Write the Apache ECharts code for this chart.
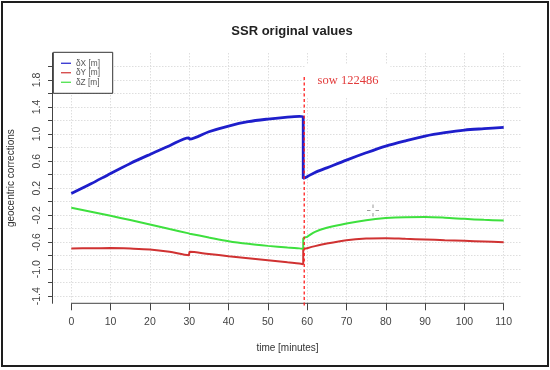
<!DOCTYPE html>
<html>
<head>
<meta charset="utf-8">
<script src="https://cdn.jsdelivr.net/npm/echarts@6/dist/echarts.min.js"></script>
<style>html,body{margin:0;padding:0;background:#fff}#c{width:550px;height:370px}</style>
</head>
<body>
<div id="c"></div>
<script>
// ---- data ----
var timeMin = [0,5,10,15,20,25,29.9,30.1,35,40,45,50,55,58,59,59,60,62,65,70,75,80,85,90,95,100,105,110];
var dX = [0.12,0.264,0.418,0.566,0.699,0.827,0.945,0.925,1.035,1.119,1.183,1.222,1.252,1.262,1.25,0.344,0.37,0.432,0.50,0.615,0.723,0.822,0.90,0.97,1.02,1.059,1.08,1.099];
var dY = [-0.695,-0.69,-0.688,-0.695,-0.708,-0.743,-0.793,-0.743,-0.775,-0.807,-0.837,-0.867,-0.898,-0.915,-0.926,-0.708,-0.69,-0.659,-0.62,-0.57,-0.546,-0.541,-0.551,-0.56,-0.57,-0.58,-0.59,-0.6];
var dZ = [-0.092,-0.15,-0.21,-0.273,-0.338,-0.405,-0.47,-0.474,-0.53,-0.585,-0.625,-0.655,-0.68,-0.692,-0.697,-0.546,-0.52,-0.447,-0.388,-0.323,-0.274,-0.244,-0.23,-0.228,-0.238,-0.255,-0.27,-0.279];
var seriesNames = ['\u03b4X [m]','\u03b4Y [m]','\u03b4Z [m]'];
var xTicks = [0,10,20,30,40,50,60,70,80,90,100,110];
var yTicks = [-1.4,-1.2,-1.0,-0.8,-0.6,-0.4,-0.2,0,0.2,0.4,0.6,0.8,1.0,1.2,1.4,1.6,1.8,2.0];
var yLabels = [-1.4,-1.0,-0.6,-0.2,0.2,0.6,1.0,1.4,1.8];
var sowTime = 59;
var sowLabel = 'sow 122486';

function pairs(t, v){ return t.map(function(x,i){ return [x, v[i]]; }); }

var chart = echarts.init(document.getElementById('c'), null, {renderer:'canvas'});
var axisCol = '#444';
var font = 'Liberation Sans, Arial, sans-serif';
var yMin = -1.505, yMax = 2.2;

var option = {
  animation: false,
  backgroundColor: '#fff',
  title: {
    text: 'SSR original values', left: 287, top: 20, textAlign: 'center',
    textStyle: {fontFamily: font, fontSize: 13, fontWeight: 'bold', color: '#222'}
  },
  legend: {
    orient: 'vertical', left: 61, top: 58.5, padding: 0, itemGap: 0, z: 6,
    icon: 'rect', itemWidth: 10, itemHeight: 1.2, itemTextGap: 12,
    textStyle: {fontFamily: font, fontSize: 8.3, color: '#555', lineHeight: 9.5},
    data: seriesNames
  },
  grid: {left: 54, top: 53, width: 467, height: 250.3, outerBoundsMode: 'none'},
  xAxis: {
    type: 'value', min: -4.4, max: 114.4,
    name: 'time [minutes]', nameLocation: 'middle', nameGap: 40,
    nameTextStyle: {fontFamily: font, fontSize: 10, color: '#333'},
    axisLine: {show: false, onZero: false},
    axisTick: {show: true, length: 7, lineStyle: {color: axisCol}, customValues: xTicks},
    axisLabel: {customValues: xTicks, margin: 13, fontFamily: font, fontSize: 10.5, color: '#444'},
    splitLine: {show: true, lineStyle: {color: '#dedede', type: [1.5,1.5], width: 1}}
  },
  yAxis: {
    type: 'value', min: yMin, max: yMax, offset: 2,
    name: 'geocentric corrections', nameLocation: 'middle', nameGap: 36,
    nameTextStyle: {fontFamily: font, fontSize: 10, color: '#333'},
    axisLine: {show: true, onZero: false, lineStyle: {color: axisCol, width: 1}},
    axisTick: {show: true, length: 4, lineStyle: {color: axisCol}, customValues: yTicks},
    axisLabel: {customValues: yLabels, rotate: 90, margin: 9, fontFamily: font, fontSize: 10.5, color: '#444',
      formatter: function(v){ return (Math.round(v*10)/10).toFixed(1); }},
    splitLine: {show: true, lineStyle: {color: '#dedede', type: [1.5,1.5], width: 1}}
  },
  series: [
    {name: seriesNames[0], type: 'line', data: pairs(timeMin, dX), showSymbol: false, z: 3, smooth: 0.3,
     lineStyle: {color: '#1e1ecb', width: 2.8}, itemStyle: {color: '#1e1ecb'}},
    {name: seriesNames[1], type: 'line', data: pairs(timeMin, dY), showSymbol: false, z: 2, smooth: 0.3,
     lineStyle: {color: '#d03232', width: 2}, itemStyle: {color: '#d03232'}},
    {name: seriesNames[2], type: 'line', data: pairs(timeMin, dZ), showSymbol: false, z: 2, smooth: 0.3,
     lineStyle: {color: '#3ee03e', width: 2}, itemStyle: {color: '#3ee03e'}}
  ]
};
chart.setOption(option);

var p0 = chart.convertToPixel({gridIndex: 0}, [xTicks[0], yMin]);
var p1 = chart.convertToPixel({gridIndex: 0}, [xTicks[xTicks.length-1], yMin]);
var s0 = chart.convertToPixel({gridIndex: 0}, [sowTime, 1.845]);
var s1 = chart.convertToPixel({gridIndex: 0}, [sowTime, yMin]);
chart.setOption({
  graphic: [
    {type: 'line', z: 5, shape: {x1: p0[0], y1: p0[1], x2: p1[0], y2: p1[1]}, style: {stroke: axisCol, lineWidth: 1}},
    {type: 'line', z: 6, shape: {x1: s0[0] + 1, y1: s0[1], x2: s1[0] + 1, y2: s1[1] + 4},
      style: {stroke: '#ff1f1f', lineWidth: 1.3, lineDash: [3, 2.5]}},
    {type: 'rect', z: 4, shape: {x: 53.3, y: 52.3, width: 59.4, height: 41}, style: {fill: '#fff', stroke: '#333', lineWidth: 1}},
    {type: 'text', z: 4, x: 348, y: 81, style: {text: sowLabel, fill: '#e23b3b', font: '12.5px "Liberation Serif", "Times New Roman", serif',
      align: 'center', verticalAlign: 'middle', backgroundColor: '#fff', padding: [10, 12]}},
    {type: 'line', z: 5, shape: {x1: 367, y1: 210.5, x2: 370.5, y2: 210.5}, style: {stroke: '#999', lineWidth: 1}},
    {type: 'line', z: 5, shape: {x1: 375.5, y1: 210.5, x2: 379, y2: 210.5}, style: {stroke: '#999', lineWidth: 1}},
    {type: 'line', z: 5, shape: {x1: 373, y1: 204.5, x2: 373, y2: 208}, style: {stroke: '#999', lineWidth: 1}},
    {type: 'line', z: 5, shape: {x1: 373, y1: 213, x2: 373, y2: 216.5}, style: {stroke: '#999', lineWidth: 1}},
    {type: 'rect', z: 10, shape: {x: 2, y: 2, width: 546, height: 364}, style: {fill: 'none', stroke: '#1e1e1e', lineWidth: 2}}
  ]
});
</script>
</body>
</html>
